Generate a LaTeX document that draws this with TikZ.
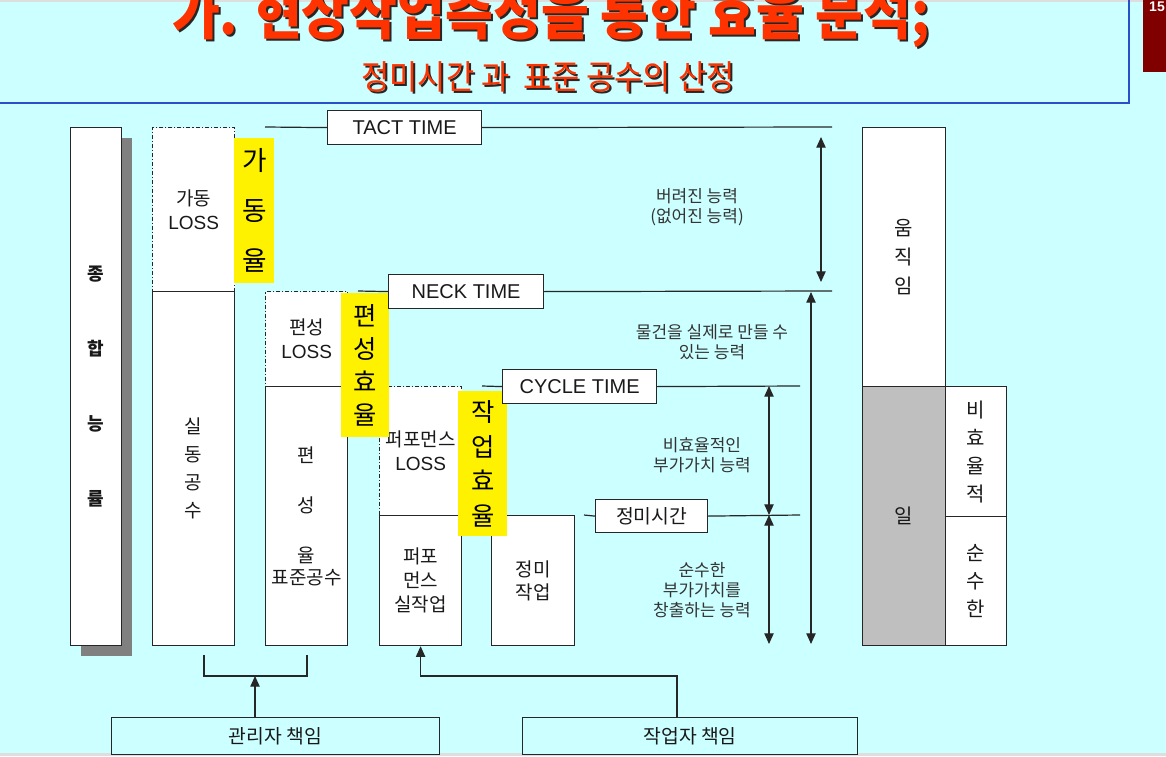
\documentclass[tikz,border=0pt]{standalone}
\usepackage{fontspec}
\setmainfont{Liberation Sans}
\newfontfamily\kr{Noto Sans CJK KR}
\usepackage{graphicx}
\usepackage{xcolor}
\usepackage{tikz}
\usetikzlibrary{arrows.meta,shadows,calc}
\definecolor{slidebg}{RGB}{204,255,255}
\definecolor{titlered}{RGB}{255,51,0}
\definecolor{frameblue}{RGB}{40,80,200}
\definecolor{pagered}{RGB}{128,0,0}
\newcommand{\headline}[1]{\scalebox{1}[1.12]{\kr\bfseries\fontsize{39}{39}\selectfont #1}}
\newcommand{\subline}[1]{\scalebox{1}[1.1]{\kr\fontsize{23}{23}\selectfont #1}}

\begin{document}
\begin{tikzpicture}[x=0.75pt, y=-0.75pt,
    box/.style={draw=black!85, line width=0.9pt, fill=white, inner sep=0pt, anchor=north west,
        align=center, text=black!90, font=\kr\fontsize{14.25}{18}\selectfont},
    lossbox/.style={box, dash pattern=on 3pt off 1.5pt on 0.8pt off 1.5pt},
    ratebox/.style={fill=yellow, inner sep=0pt, anchor=north west, align=center, text=black},
    timebox/.style={draw=black!85, line width=0.9pt, fill=white, inner sep=0pt, anchor=north west,
        minimum height=25.5pt, text=black!90, font=\fontsize{15}{18}\selectfont},
    notetext/.style={align=center, text=black!80, font=\kr\fontsize{12.75}{15}\selectfont},
    levelline/.style={line width=0.9pt, draw=black!85},
    spanarrow/.style={levelline, {Triangle[length=8pt,width=7pt]}-{Triangle[length=8pt,width=7pt]}},
    leadarrow/.style={levelline, -{Triangle[length=8pt,width=7pt]}}]

        % background
        \useasboundingbox (0,0) rectangle (1166,756);
        \fill[slidebg] (0,0) rectangle (1166,756);
        \fill[black!13] (0,0) rectangle (1166,2);
        \fill[black!13] (0,753) rectangle (1166,756);

        % header
        \draw[frameblue, line width=1.5pt] (0,103) -- (1129,103) -- (1129,0);
        \fill[pagered] (1143,0) rectangle (1166,72);
        \node[text=white, font=\bfseries\fontsize{10.5}{10.5}\selectfont] (pagenum) at (1157,7) {15};
        \node[anchor=base, text=black!85] (titleshadow) at (553,37) {\headline{가. 현상작업측정을 통한 효율 분석;}};
        \node[anchor=base, text=titlered] (title) at (551,35) {\headline{가. 현상작업측정을 통한 효율 분석;}};
        \node[anchor=base, text=black!85] (subtitleshadow) at (550,92) {\subline{정미시간 과\ \ 표준 공수의 산정}};
        \node[anchor=base, text=titlered] (subtitle) at (548,90) {\subline{정미시간 과\ \ 표준 공수의 산정}};

        % columns
        \node[box, minimum width=38.25pt, minimum height=388.5pt,
            drop shadow={shadow xshift=7.5pt, shadow yshift=-7.5pt, fill=black!50, opacity=1},
            font=\kr\bfseries\fontsize{13.5}{56.25}\selectfont] (total) at (70,127) {종\\합\\능\\률};

        \node[lossbox, minimum width=61.5pt, minimum height=123pt] (gadongloss) at (152,127) {가동\\{\rmfamily LOSS}};
        \node[box, minimum width=61.5pt, minimum height=265.5pt, font=\kr\fontsize{14.25}{21}\selectfont] (sildong) at (152,291) {실\\동\\공\\수};

        \node[lossbox, minimum width=61.5pt, minimum height=71.25pt] (pyeonloss) at (265,291) {편성\\{\rmfamily LOSS}};
        \node[box, minimum width=61.5pt, minimum height=194.25pt, font=\kr\fontsize{14.25}{16.5}\selectfont] (pyeonyul) at (265,386) {편\\[21pt]성\\[21pt]율\\표준공수};

        \node[lossbox, minimum width=61.5pt, minimum height=96.75pt] (perfloss) at (379,386) {퍼포먼스\\{\rmfamily LOSS}};
        \node[box, minimum width=61.5pt, minimum height=97.5pt] (perfwork) at (379,515) {퍼포\\먼스\\실작업};

        \node[box, minimum width=62.25pt, minimum height=97.5pt, font=\kr\fontsize{14.25}{17.25}\selectfont] (jeongmiwork) at (491,515) {정미\\작업};

        \node[box, minimum width=62.25pt, minimum height=194.25pt, font=\kr\fontsize{15}{22}\selectfont] (umjik) at (862,127) {움\\직\\임};
        \node[box, fill=black!25, minimum width=62.25pt, minimum height=194.25pt, font=\kr\fontsize{15}{22}\selectfont] (il) at (862,386) {일};
        \node[box, minimum width=45.75pt, minimum height=97.5pt, font=\kr\fontsize{15}{21}\selectfont] (biyul) at (945,386) {비\\효\\율\\적};
        \node[box, minimum width=45.75pt, minimum height=96.75pt, font=\kr\fontsize{15}{21}\selectfont] (sunsu) at (945,516) {순\\수\\한};

        % rates
        \node[ratebox, minimum width=30pt, minimum height=108.75pt, font=\kr\fontsize{20}{37.5}\selectfont] (gadongrate) at (234,138) {가\\동\\율};
        \node[ratebox, minimum width=36pt, minimum height=108pt, font=\kr\fontsize{19}{24.75}\selectfont] (pyeonrate) at (341,293) {편\\성\\효\\율};
        \node[ratebox, minimum width=36.75pt, minimum height=108.75pt, font=\kr\fontsize{19}{26}\selectfont] (jakeoprate) at (458,391) {작\\업\\효\\율};

        % time levels
        \node[timebox, minimum width=115.5pt] (tact) at (327,110) {TACT TIME};
        \node[timebox, minimum width=116.25pt] (neck) at (388,274) {NECK TIME};
        \node[timebox, minimum width=115.5pt] (cycle) at (502,369) {CYCLE TIME};
        \node[timebox, minimum width=84pt, minimum height=24.75pt, font=\kr\fontsize{14.5}{18}\selectfont] (jmtime) at (595,499) {정미시간};

        \coordinate (tactL) at (265,127);
        \coordinate (tactR) at (832,127);
        \coordinate (neckL) at (358,291);
        \coordinate (neckR) at (832,291);
        \coordinate (cycleL) at (482,386);
        \coordinate (cycleR) at (800,386);
        \coordinate (jmL) at (584,515);
        \coordinate (jmR) at (800,515);
        \draw[levelline] (tactL) -- (tact.west);
        \draw[levelline] (tact.east) -- (tactR);
        \draw[levelline] (neckL) -- (neck.west);
        \draw[levelline] (neck.east) -- (neckR);
        \draw[levelline] (cycleL) -- (cycle.west);
        \draw[levelline] (cycle.east) -- (cycleR);
        \draw[levelline] (jmL) -- (jmtime.west);
        \draw[levelline] (jmtime.east) -- (jmR);

        % spans
        \coordinate (lostT) at (821,137);
        \coordinate (lostB) at (821,282);
        \coordinate (makeT) at (811,292);
        \coordinate (makeB) at (811,644);
        \coordinate (wasteT) at (769,386);
        \coordinate (netM) at (769,515);
        \coordinate (netB) at (769,644);
        \draw[spanarrow] (lostT) -- (lostB);
        \draw[spanarrow] (makeT) -- (makeB);
        \draw[spanarrow] (wasteT) -- (netM);
        \draw[spanarrow] (netM) -- (netB);

        % Text
        \node[notetext] (lostnote) at (697,207) {버려진 능력\\(없어진 능력)};
        \node[notetext] (makenote) at (712,342) {물건을 실제로 만들 수\\있는 능력};
        \node[notetext] (wastenote) at (702,455) {비효율적인\\부가가치 능력};
        \node[notetext] (netnote) at (702,590) {순수한\\부가가치를\\창출하는 능력};

        % responsibility
        \node[box, fill=slidebg, minimum width=246pt, minimum height=27.75pt, font=\kr\fontsize{14.5}{18}\selectfont] (manager) at (111,717) {관리자 책임};
        \node[box, fill=slidebg, minimum width=251.25pt, minimum height=27.75pt, font=\kr\fontsize{14.5}{18}\selectfont] (worker) at (522,717) {작업자 책임};

        \coordinate (brL) at (204,655);
        \coordinate (brR) at (307,655);
        \coordinate (brM) at (255,676);
        \coordinate (wkM) at (677,676);
        \draw[levelline] (brL) |- (brM) -| (brR);
        \draw[leadarrow] (manager.north -| brM) -- (brM);
        \draw[leadarrow] (worker.north -| wkM) -- (wkM) -| (perfwork.south);
\end{tikzpicture}
\end{document}
